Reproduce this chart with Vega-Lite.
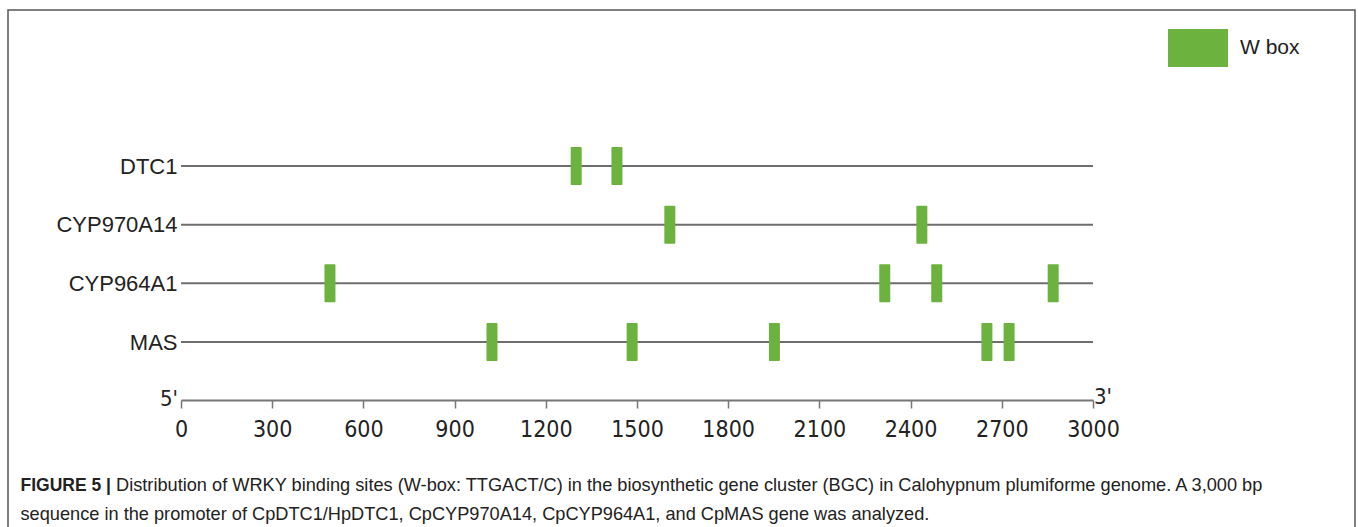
{
  "$schema": "https://vega.github.io/schema/vega-lite/v6.json",
  "width": 1347,
  "height": 525,
  "autosize": {"type": "none"},
  "padding": {"left": 8, "top": 10, "right": 3, "bottom": 0},
  "background": "white",
  "title": {
    "text": "Distribution of WRKY binding sites (W-box: TTGACT/C) in the biosynthetic gene cluster (BGC) in Calohypnum plumiforme genome. A 3,000 bp",
    "orient": "top",
    "anchor": "start",
    "frame": "group",
    "offset": 0,
    "baseline": "alphabetic",
    "dx": 108,
    "dy": 499,
    "font": "Liberation Sans",
    "fontSize": 18.2,
    "fontWeight": "normal",
    "color": "#222222"
  },
  "datasets": {
    "genes": [
      {"gene": "DTC1", "start": 0, "end": 3000},
      {"gene": "CYP970A14", "start": 0, "end": 3000},
      {"gene": "CYP964A1", "start": 0, "end": 3000},
      {"gene": "MAS", "start": 0, "end": 3000}
    ],
    "sites": [
      {"gene": "DTC1", "pos": 1300, "type": "W box"},
      {"gene": "DTC1", "pos": 1434, "type": "W box"},
      {"gene": "CYP970A14", "pos": 1608, "type": "W box"},
      {"gene": "CYP970A14", "pos": 2437, "type": "W box"},
      {"gene": "CYP964A1", "pos": 490, "type": "W box"},
      {"gene": "CYP964A1", "pos": 2315, "type": "W box"},
      {"gene": "CYP964A1", "pos": 2486, "type": "W box"},
      {"gene": "CYP964A1", "pos": 2869, "type": "W box"},
      {"gene": "MAS", "pos": 1023, "type": "W box"},
      {"gene": "MAS", "pos": 1484, "type": "W box"},
      {"gene": "MAS", "pos": 1952, "type": "W box"},
      {"gene": "MAS", "pos": 2651, "type": "W box"},
      {"gene": "MAS", "pos": 2724, "type": "W box"}
    ],
    "ends": [
      {"gene": "axis", "pos": 0, "label": "5'"},
      {"gene": "axis", "pos": 3000, "label": "3'"}
    ]
  },
  "layer": [
    {
      "data": {"name": "genes"},
      "mark": {"type": "rule", "color": "#6e6e6e", "strokeWidth": 2},
      "encoding": {
        "x": {
          "field": "start",
          "type": "quantitative",
          "scale": {"domain": [0, 3000], "range": [173, 1085], "nice": false, "zero": false},
          "axis": {
            "orient": "bottom",
            "offset": -135,
            "values": [0, 300, 600, 900, 1200, 1500, 1800, 2100, 2400, 2700, 3000],
            "format": "d",
            "grid": false,
            "domainColor": "#777777",
            "domainWidth": 2,
            "tickColor": "#777777",
            "tickWidth": 1.5,
            "tickSize": 8,
            "labelPadding": 10,
            "labelFont": "Liberation Sans Narrow, DejaVu Sans Condensed, Liberation Sans",
            "labelFontSize": 23,
            "labelColor": "#222222",
            "labelFlush": false,
            "labelOverlap": false,
            "title": "FIGURE 5 |",
            "titleFont": "Liberation Sans",
            "titleFontSize": 17.5,
            "titleFontWeight": "bold",
            "titleColor": "#222222",
            "titleAngle": 0,
            "titleAlign": "left",
            "titleBaseline": "alphabetic",
            "titleX": 12,
            "titleY": 90
          }
        },
        "x2": {"field": "end"},
        "y": {
          "field": "gene",
          "type": "nominal",
          "scale": {"type": "point", "domain": ["DTC1", "CYP970A14", "CYP964A1", "MAS", "axis"], "range": [156, 390.7], "padding": 0},
          "axis": {
            "orient": "left",
            "offset": -172,
            "domain": false,
            "ticks": false,
            "grid": false,
            "labelPadding": 3,
            "labelFont": "Liberation Sans",
            "labelFontSize": 22,
            "labelColor": "#222222",
            "labelExpr": "datum.value === 'axis' ? '' : datum.value",
            "title": "sequence in the promoter of CpDTC1/HpDTC1, CpCYP970A14, CpCYP964A1, and CpMAS gene was analyzed.",
            "titleFont": "Liberation Sans",
            "titleFontSize": 18.2,
            "titleFontWeight": "normal",
            "titleColor": "#222222",
            "titleAngle": 0,
            "titleAlign": "left",
            "titleBaseline": "alphabetic",
            "titleX": -160,
            "titleY": 509
          }
        }
      }
    },
    {
      "data": {"name": "sites"},
      "mark": {"type": "tick", "thickness": 11, "size": 38, "opacity": 1, "cornerRadius": 1},
      "encoding": {
        "x": {"field": "pos", "type": "quantitative"},
        "y": {"field": "gene", "type": "nominal"},
        "color": {
          "field": "type",
          "type": "nominal",
          "scale": {"range": ["#6cb23e"]},
          "legend": {
            "title": null,
            "orient": "none",
            "legendX": 1160,
            "legendY": 8,
            "padding": 0,
            "symbolType": "M-1,-0.633H1V0.633H-1Z",
            "symbolSize": 3600,
            "symbolStrokeWidth": 0,
            "symbolOpacity": 1,
            "labelOffset": 12,
            "labelFont": "Liberation Sans",
            "labelFontSize": 21,
            "labelColor": "#222222"
          }
        }
      }
    },
    {
      "data": {"name": "ends"},
      "transform": [{"filter": "datum.pos === 0"}],
      "mark": {"type": "text", "align": "right", "baseline": "alphabetic", "dx": -3, "dy": 5, "font": "Liberation Sans Narrow, DejaVu Sans Condensed, Liberation Sans", "fontSize": 22, "color": "#222222"},
      "encoding": {
        "x": {"field": "pos", "type": "quantitative"},
        "y": {"field": "gene", "type": "nominal"},
        "text": {"field": "label"}
      }
    },
    {
      "data": {"name": "ends"},
      "transform": [{"filter": "datum.pos === 3000"}],
      "mark": {"type": "text", "align": "left", "baseline": "alphabetic", "dx": 1, "dy": 3, "font": "Liberation Sans Narrow, DejaVu Sans Condensed, Liberation Sans", "fontSize": 22, "color": "#222222"},
      "encoding": {
        "x": {"field": "pos", "type": "quantitative"},
        "y": {"field": "gene", "type": "nominal"},
        "text": {"field": "label"}
      }
    }
  ],
  "config": {
    "view": {"stroke": "#555555", "strokeWidth": 1.5, "fill": "white"}
  }
}
